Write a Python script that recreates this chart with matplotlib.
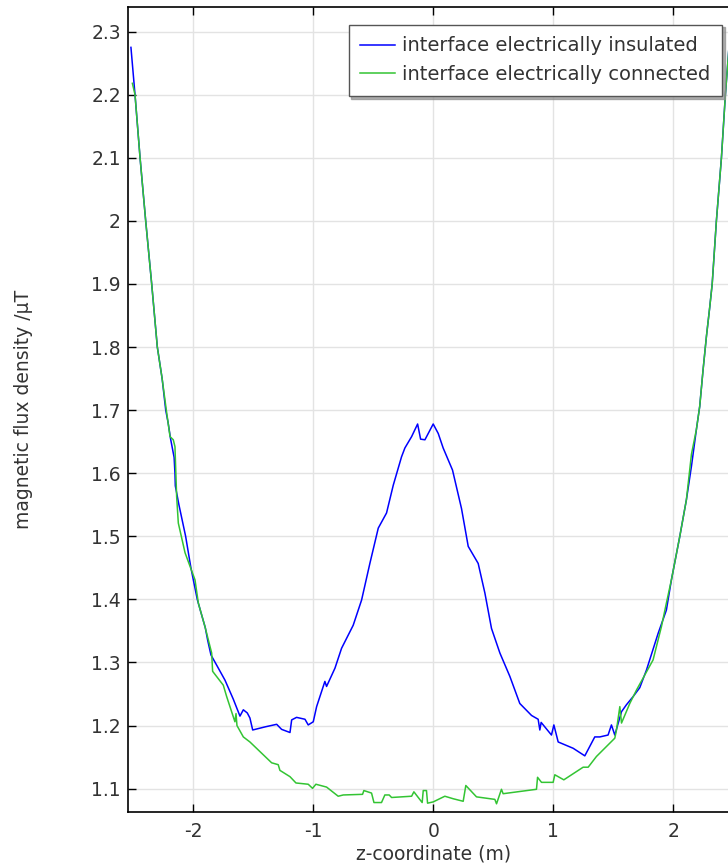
import matplotlib
matplotlib.use("Agg")
import matplotlib.pyplot as plt
from matplotlib.ticker import FuncFormatter, MultipleLocator

plt.rcParams["axes.unicode_minus"] = False
plt.rcParams["font.family"] = "DejaVu Sans"

FS = 13.5

# interface electrically insulated (blue)
z_ins = [-2.52, -2.486, -2.444, -2.397, -2.347, -2.30, -2.26, -2.23, -2.21, -2.19,
         -2.16, -2.153, -2.15, -2.12, -2.064, -2.02, -1.967, -1.93, -1.90, -1.88,
         -1.853, -1.806, -1.736, -1.667, -1.611, -1.583, -1.55, -1.528, -1.505, -1.40,
         -1.305, -1.264, -1.194, -1.18, -1.139, -1.069, -1.042, -1.0, -0.972, -0.903,
         -0.889, -0.819, -0.764, -0.667, -0.597, -0.528, -0.458, -0.389, -0.333, -0.264,
         -0.236, -0.18, -0.13, -0.105, -0.069, 0.0, 0.042, 0.083, 0.161, 0.236,
         0.292, 0.375, 0.431, 0.486, 0.556, 0.639, 0.722, 0.82, 0.875, 0.889,
         0.9, 0.986, 1.006, 1.042, 1.167, 1.264, 1.347, 1.389, 1.458, 1.486,
         1.514, 1.570, 1.611, 1.667, 1.722, 1.778, 1.875, 1.944, 1.986, 2.056,
         2.111, 2.153, 2.194, 2.222, 2.25, 2.278, 2.306, 2.326, 2.361, 2.403,
         2.436, 2.46, 2.49]
b_ins = [2.275, 2.2, 2.1, 2.0, 1.9, 1.8, 1.75, 1.7, 1.68, 1.655,
         1.625, 1.6, 1.58, 1.55, 1.5, 1.45, 1.4, 1.375, 1.355, 1.335,
         1.312, 1.296, 1.272, 1.242, 1.215, 1.225, 1.220, 1.212, 1.193, 1.198,
         1.202, 1.194, 1.189, 1.209, 1.213, 1.21, 1.201, 1.206, 1.23, 1.27,
         1.262, 1.291, 1.3225, 1.359, 1.399, 1.457, 1.513, 1.537, 1.581, 1.626,
         1.640, 1.658, 1.678, 1.654, 1.653, 1.678, 1.663, 1.640, 1.605, 1.544,
         1.484, 1.457, 1.410, 1.354, 1.315, 1.278, 1.235, 1.216, 1.21, 1.193,
         1.205, 1.185, 1.201, 1.174, 1.164, 1.152, 1.182, 1.182, 1.185, 1.201,
         1.185, 1.222, 1.233, 1.246, 1.26, 1.288, 1.346, 1.383, 1.431, 1.5,
         1.558, 1.611, 1.669, 1.706, 1.764, 1.817, 1.864, 1.9, 2.0, 2.1,
         2.2, 2.26, 2.34]

# interface electrically connected (green)
z_con = [-2.508, -2.486, -2.444, -2.397, -2.347, -2.30, -2.26, -2.225, -2.194, -2.167,
         -2.153, -2.139, -2.125, -2.069, -1.986, -1.958, -1.903, -1.847, -1.839, -1.75,
         -1.722, -1.653, -1.644, -1.636, -1.583, -1.528, -1.347, -1.292, -1.278, -1.194,
         -1.144, -1.042, -1.006, -0.978, -0.889, -0.792, -0.75, -0.589, -0.578, -0.514,
         -0.494, -0.431, -0.403, -0.367, -0.347, -0.18, -0.161, -0.092, -0.083, -0.056,
         -0.047, 0.0, 0.097, 0.167, 0.25, 0.272, 0.361, 0.514, 0.528, 0.569,
         0.583, 0.861, 0.87, 0.903, 1.0, 1.014, 1.089, 1.25, 1.292, 1.361,
         1.514, 1.528, 1.556, 1.570, 1.639, 1.694, 1.833, 1.903, 1.944, 1.986,
         2.056, 2.111, 2.153, 2.194, 2.222, 2.25, 2.278, 2.306, 2.326, 2.361,
         2.403, 2.436, 2.46, 2.49]
b_con = [2.218, 2.2, 2.1, 2.0, 1.9, 1.8, 1.75, 1.7, 1.658, 1.653,
         1.642, 1.563, 1.521, 1.474, 1.431, 1.394, 1.357, 1.315, 1.286, 1.264,
         1.246, 1.206, 1.219, 1.2, 1.182, 1.174, 1.141, 1.138, 1.129, 1.119,
         1.109, 1.107, 1.1005, 1.107, 1.1025, 1.088, 1.09, 1.091, 1.097, 1.093,
         1.078, 1.078, 1.090, 1.090, 1.086, 1.088, 1.095, 1.078, 1.097, 1.097,
         1.077, 1.079, 1.088, 1.084, 1.080, 1.105, 1.087, 1.083, 1.076, 1.099,
         1.092, 1.099, 1.118, 1.110, 1.110, 1.122, 1.114, 1.134, 1.134, 1.151,
         1.180, 1.193, 1.230, 1.204, 1.235, 1.256, 1.304, 1.357, 1.394, 1.431,
         1.5, 1.558, 1.63, 1.669, 1.706, 1.764, 1.817, 1.864, 1.9, 2.0,
         2.1, 2.2, 2.26, 2.34]

fig = plt.figure(figsize=(7.28, 8.68), dpi=100)
# right edge of the axes runs past the figure, as in the reference
ax = fig.add_axes([127.7 / 728, 1 - 812 / 868, 611 / 728, 805 / 868])

ax.plot(z_ins, b_ins, color="#0000ff", lw=1.1, label="interface electrically insulated")
ax.plot(z_con, b_con, color="#33c433", lw=1.1, label="interface electrically connected")

ax.set_xlim(-2.547, 2.547)
ax.set_ylim(1.063, 2.339)
ax.xaxis.set_major_locator(MultipleLocator(1))
ax.yaxis.set_major_locator(MultipleLocator(0.1))
ax.yaxis.set_major_formatter(FuncFormatter(lambda v, p: "%g" % round(v, 2)))

ax.grid(True, color="#e3e3e3", lw=1.0)
ax.set_axisbelow(True)
for s in ax.spines.values():
    s.set_linewidth(1.2)
ax.tick_params(direction="in", length=6, width=1, top=True, right=True,
               labelsize=FS, labelcolor="#333333")
ax.tick_params(axis="x", pad=7)
ax.tick_params(axis="y", pad=5)

ax.set_xlabel("z-coordinate (m)", fontsize=FS, color="#333333")
ax.set_ylabel("magnetic flux density /µT", fontsize=FS, color="#333333")
ax.xaxis.set_label_coords(0.5, -0.040)
ax.yaxis.set_label_coords(-0.155, 0.5)

leg = ax.legend(loc="upper right", bbox_to_anchor=(0.9727, 0.978), borderaxespad=0,
                fontsize=14, fancybox=False, shadow={"color": "0.55", "alpha": 0.7},
                handlelength=1.8, handletextpad=0.35, labelspacing=0.5, borderpad=0.6)
leg.get_frame().set_edgecolor("#555555")
leg.get_frame().set_linewidth(1.0)
for t in leg.get_texts():
    t.set_color("#333333")

fig.savefig("out.png", dpi=100)
